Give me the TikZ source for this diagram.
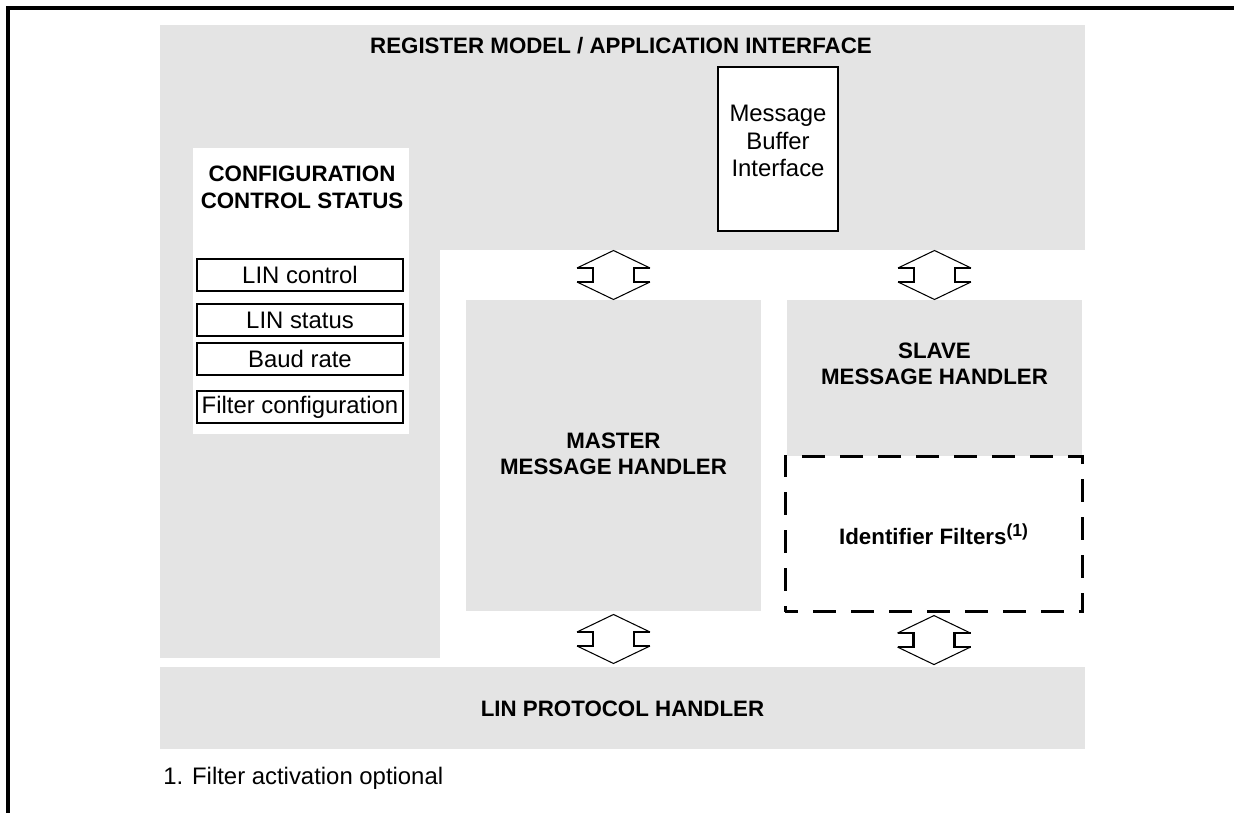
\documentclass[tikz,border=0pt]{standalone}
\usepackage{fontspec}
\setmainfont{Liberation Sans}
\usepackage{xcolor}
\usepackage{tikz}
\usetikzlibrary{calc, positioning}
\definecolor{panelgray}{HTML}{E4E4E4}

\tikzset{
    busarrow/.pic={
        \draw[line width=0.6pt] (-36.5,-7) -- (0,-24.5) -- (36.5,-7);
        \draw[line width=0.6pt] (-36.5,7) -- (0,24.5) -- (36.5,7);
        \draw[line width=1.4pt] (-36.5,-7) -- (-20.5,-7) -- (-20.5,7) -- (-36.5,7);
        \draw[line width=1.4pt] (36.5,-7) -- (20.5,-7) -- (20.5,7) -- (36.5,7);
    }
}

\begin{document}
\begin{tikzpicture}[x=0.02cm, y=-0.02cm,
    every node/.style={font=\fontsize{13.6}{15.5}\selectfont},
    panel/.style={rectangle, fill=panelgray, inner sep=0pt},
    block/.style={rectangle, fill=white, draw, line width=1.1pt, inner sep=0pt},
    field/.style={rectangle, fill=white, draw, line width=1pt, inner sep=0pt,
                  minimum width=4.12cm, minimum height=0.64cm,
                  font=\fontsize{13.6}{16}\selectfont},
    filterbox/.style={rectangle, fill=white, draw, line width=1.7pt, inner sep=0pt,
                      dash pattern=on 0.46cm off 0.3cm, dash phase=0.2cm},
    title/.style={font=\fontsize{12.7}{14.6}\selectfont\bfseries, align=center}
]
\useasboundingbox (0,0) rectangle (1234,813);
\draw[line width=1.8pt] (8,813) -- (8,8) -- (1234,8);

\node[panel, minimum width=18.5cm, minimum height=4.5cm] (reg) at (622.5,137.5) {};
\fill[panelgray] (160,249) rectangle (440,658);
\node[title] (regtitle) at (621,46) {REGISTER MODEL / APPLICATION INTERFACE};

\node[rectangle, fill=white, inner sep=0pt, minimum width=4.32cm, minimum height=5.72cm] (config) at (301,291) {};
\node[title, font=\fontsize{12.7}{15.4}\selectfont\bfseries] (configtitle) at (302,187) {CONFIGURATION\\CONTROL STATUS};
\node[field] (linctrl) at (300,275) {LIN control};
\node[field] (linstat) at (300,320) {LIN status};
\node[field] (baud)    at (300,359) {Baud rate};
\node[field] (fltcfg)  at (300,407) {Filter configuration};

\node[block, minimum width=2.4cm, minimum height=3.28cm] (msgbuf) at (778,149) {};
\node[align=center] (msgbuftxt) at (778,141) {Message\\Buffer\\Interface};

\node[panel, minimum width=5.9cm, minimum height=6.22cm] (master) at (613.5,455.5) {};
\node[title] (mastertxt) at (613.5,454) {MASTER\\MESSAGE HANDLER};

\node[panel, minimum width=5.9cm, minimum height=3.12cm] (slave) at (934.5,378) {};
\node[title] (slavetxt) at (934.5,364) {SLAVE\\MESSAGE HANDLER};

\node[filterbox, minimum width=5.96cm, minimum height=3.12cm] (idfilt) at (934,534) {};
\node[title] (idfilttxt) at (934,534) {Identifier Filters\textsuperscript{\fontsize{10}{12}\selectfont(1)}};

\node[panel, minimum width=18.5cm, minimum height=1.64cm] (lin) at (622.5,708) {};
\node[title] (lintxt) at (622.5,709) {LIN PROTOCOL HANDLER};

\node[anchor=west, inner sep=0pt] (note) at (163,778) {1. Filter activation optional};

\pic at ($(reg.south -| master.north)!.5!(master.north)$) {busarrow};
\pic at ($(reg.south -| slave.north)!.5!(slave.north)$) {busarrow};
\pic at ($(master.south)!.5!(lin.north -| master.south)$) {busarrow};
\pic at ($(idfilt.south)!.5!(lin.north -| idfilt.south)$) {busarrow};
\end{tikzpicture}
\end{document}
